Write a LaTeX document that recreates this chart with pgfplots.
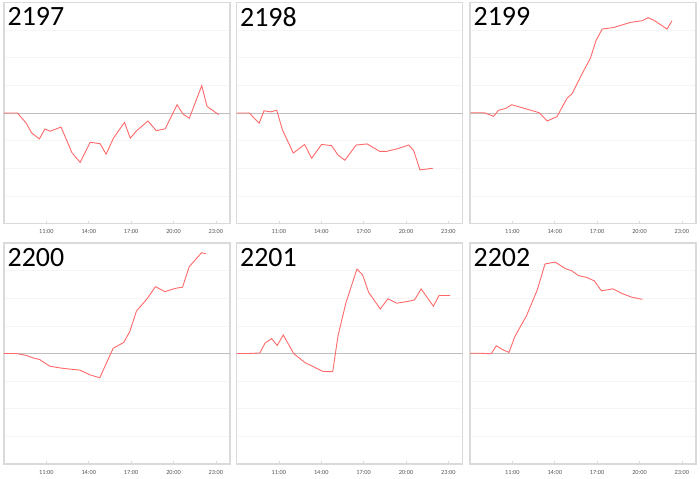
\documentclass[border=0pt]{standalone}
\usepackage{pgfplots}
\pgfplotsset{compat=1.18}
\usepackage{fontspec}
\setmainfont{Carlito}
\definecolor{lc}{RGB}{255,105,105}
\definecolor{bc}{RGB}{218,218,218}
\definecolor{gc}{RGB}{245,245,245}
\definecolor{zc}{RGB}{190,190,190}
\definecolor{tc}{RGB}{85,85,85}
\pgfplotsset{
  panel/.style={
    scale only axis, width=226bp, height=221bp,
    xmin=8, xmax=24, ymin=-4, ymax=4,
    xtick={11,14,17,20,23},
    xticklabels={11:00,14:00,17:00,20:00,23:00},
    ytick={-3,-2,-1,1,2,3}, yticklabels={},
    extra y ticks={0}, extra y tick labels={},
    extra y tick style={grid style={draw=zc, line width=0.8bp}},
    ymajorgrids, grid style={draw=gc, line width=0.6bp},
    tick align=inside, major tick length=2.5bp,
    xtick pos=bottom,
    x tick style={draw=bc, line width=0.6bp},
    y tick style={draw=none},
    axis line style={draw=bc, line width=1.2bp},
    xticklabel style={font=\fontsize{6.3}{7}\selectfont, text=tc, yshift=-2.5bp},
    /pgf/number format/assume math mode=true,
    clip=true,
  },
  ser/.style={draw=lc, line width=0.9bp, mark=none},
}
\newcommand{\lbl}[1]{\node[anchor=north west, inner sep=0pt, font=\fontsize{28}{30}\selectfont] at ([xshift=3.5bp,yshift=-5bp]rel axis cs:0,1) {#1};}
\begin{document}
\begin{tikzpicture}[x=1bp,y=1bp]
\useasboundingbox (0,0) rectangle (700,479);
% 2197
\begin{axis}[panel, at={(4bp,255.5bp)}, anchor=south west]
\addplot[ser] coordinates {(8.0,0) (8.95,0) (9.56,-0.36) (9.96,-0.72) (10.5,-0.94) (10.9,-0.58) (11.26,-0.66) (12.04,-0.51) (12.8,-1.43) (13.39,-1.79) (14.1,-1.06) (14.8,-1.11) (15.23,-1.49) (15.75,-0.91) (16.53,-0.34) (16.94,-0.91) (17.4,-0.64) (18.19,-0.29) (18.78,-0.64) (19.42,-0.57) (20.25,0.30) (20.67,-0.04) (21.12,-0.19) (22.0,0.99) (22.37,0.24) (23.2,-0.06)};
\lbl{2197}
\end{axis}
% 2198
\begin{axis}[panel, at={(236.5bp,255.5bp)}, anchor=south west]
\addplot[ser] coordinates {(8.0,0) (8.9,0) (9.6,-0.37) (9.95,0.08) (10.42,0.04) (10.85,0.10) (11.25,-0.61) (12.02,-1.45) (12.82,-1.14) (13.32,-1.64) (14.02,-1.14) (14.73,-1.18) (15.18,-1.52) (15.67,-1.71) (16.47,-1.16) (17.25,-1.12) (18.14,-1.39) (18.61,-1.39) (19.36,-1.30) (20.19,-1.16) (20.54,-1.36) (20.99,-2.06) (21.9,-2.0)};
\lbl{2198}
\end{axis}
% 2199
\begin{axis}[panel, at={(470bp,255.5bp)}, anchor=south west]
\addplot[ser] coordinates {(8.05,0.01) (9.01,0.01) (9.67,-0.12) (10.02,0.10) (10.56,0.17) (10.95,0.30) (12.9,0.01) (13.46,-0.29) (14.16,-0.13) (14.88,0.54) (15.23,0.70) (15.87,1.36) (16.52,1.98) (16.92,2.62) (17.36,3.04) (18.13,3.09) (19.37,3.28) (20.19,3.34) (20.61,3.45) (21.01,3.36) (21.95,3.04) (22.30,3.34)};
\lbl{2199}
\end{axis}
% 2200
\begin{axis}[panel, at={(4bp,15bp)}, anchor=south west]
\addplot[ser] coordinates {(8.0,0) (8.87,0) (9.58,-0.07) (10.06,-0.16) (10.53,-0.22) (11.24,-0.46) (12.06,-0.53) (12.77,-0.57) (13.36,-0.60) (14.07,-0.77) (14.78,-0.88) (15.73,0.19) (16.48,0.40) (16.91,0.80) (17.38,1.54) (18.13,1.98) (18.72,2.42) (19.39,2.24) (20.14,2.36) (20.64,2.40) (21.11,3.14) (21.99,3.65) (22.29,3.61)};
\lbl{2200}
\end{axis}
% 2201
\begin{axis}[panel, at={(236.5bp,15bp)}, anchor=south west]
\addplot[ser] coordinates {(8.0,0) (8.88,0) (9.66,0.02) (10.01,0.37) (10.48,0.54) (10.88,0.29) (11.31,0.67) (12.06,-0.01) (12.88,-0.34) (14.13,-0.65) (14.81,-0.66) (15.19,0.65) (15.75,1.84) (16.53,3.06) (16.93,2.84) (17.35,2.22) (18.18,1.61) (18.72,1.98) (19.35,1.82) (20.18,1.89) (20.60,1.94) (21.07,2.34) (21.94,1.71) (22.34,2.10) (23.12,2.10)};
\lbl{2201}
\end{axis}
% 2202
\begin{axis}[panel, at={(470bp,15bp)}, anchor=south west]
\addplot[ser] coordinates {(8.0,0.01) (8.67,0.01) (9.5,-0.01) (9.86,0.28) (10.34,0.13) (10.76,0.04) (11.17,0.61) (12.0,1.37) (12.76,2.30) (13.31,3.24) (14.02,3.31) (14.73,3.08) (15.21,2.99) (15.68,2.82) (16.28,2.75) (16.80,2.63) (17.30,2.27) (18.11,2.34) (18.77,2.17) (19.44,2.04) (20.2,1.96)};
\lbl{2202}
\end{axis}
\end{tikzpicture}
\end{document}
